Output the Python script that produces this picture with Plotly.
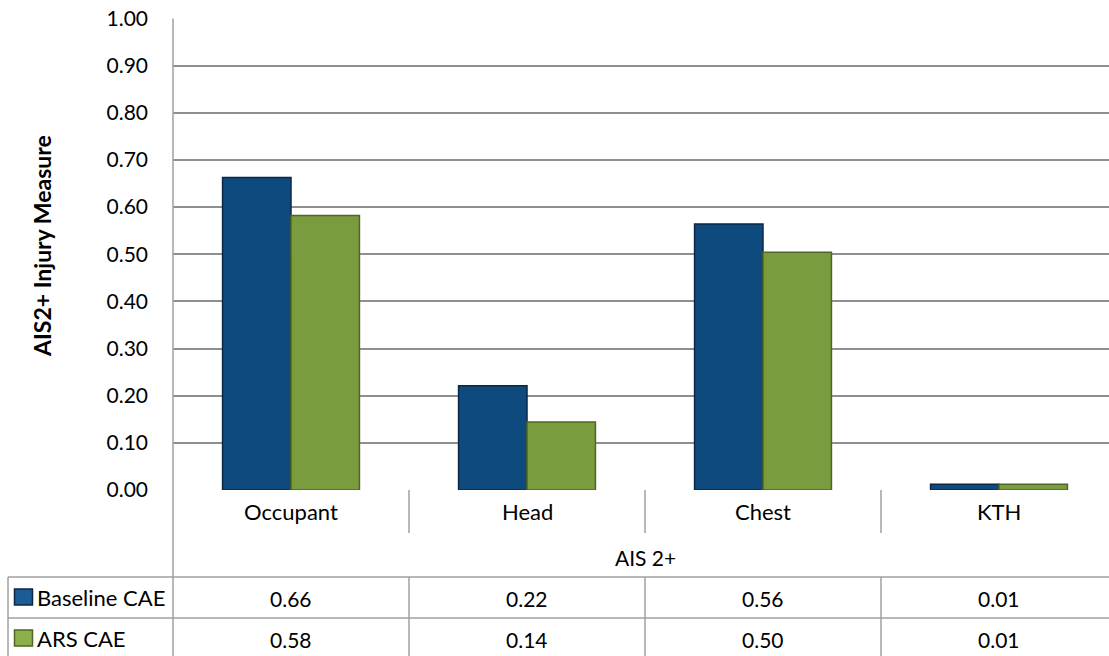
import plotly.graph_objects as go

categories = ["Occupant", "Head", "Chest", "KTH"]
group_label = "AIS 2+"
series_names = ["Baseline CAE", "ARS CAE"]
baseline_cae = [0.663, 0.221, 0.564, 0.012]
ars_cae = [0.582, 0.144, 0.504, 0.012]
y_ticks = [0.0, 0.1, 0.2, 0.3, 0.4, 0.5, 0.6, 0.7, 0.8, 0.9, 1.0]
y_title = "AIS2+ Injury Measure"

W, H = 1109, 656
FONT = "Lato"
GRID = "#8f8f8f"
LINE = "#a0a0a0"

def px(x):
    return x / W

def py(y):
    return 1 - y / H

plot_left, plot_top, plot_bottom = 173, 18.5, 490
cat_w = 236.0

series = [baseline_cae, ars_cae]
fills = ["#0f4a7f", "#7b9c3e"]
edges = ["#0a2846", "#4e6726"]
key_fills = ["#1d5b96", "#8cb04a"]

fig = go.Figure()
for name, vals, fc, ec in zip(series_names, series, fills, edges):
    fig.add_trace(go.Bar(
        x=list(range(len(categories))), y=vals, name=name,
        marker=dict(color=fc, line=dict(color=ec, width=1.5)),
        hoverinfo="skip",
    ))

shapes = []
annotations = []
# left axis line running down through the table
shapes.append(dict(type="line", xref="paper", yref="paper",
                   x0=px(plot_left), x1=px(plot_left), y0=py(plot_top), y1=0,
                   line=dict(color=LINE, width=1.5)))
# category dividers
for i in range(len(categories) - 1):
    shapes.append(dict(type="line", xref="x", yref="paper", x0=i + 0.5, x1=i + 0.5,
                       y0=py(plot_bottom), y1=py(533), line=dict(color=LINE, width=1.5)))
    shapes.append(dict(type="line", xref="x", yref="paper", x0=i + 0.5, x1=i + 0.5,
                       y0=py(577), y1=0, line=dict(color=LINE, width=1.5)))
# table horizontal lines
for yy in (577, 618):
    shapes.append(dict(type="line", xref="paper", yref="paper", x0=px(8), x1=1,
                       y0=py(yy), y1=py(yy), line=dict(color=LINE, width=1.5)))
shapes.append(dict(type="line", xref="paper", yref="paper", x0=px(8), x1=px(8),
                   y0=py(577), y1=0, line=dict(color=LINE, width=1.5)))

# category labels
for i, c in enumerate(categories):
    annotations.append(dict(x=i, y=py(511), xref="x", yref="paper", text=c,
                            showarrow=False, font=dict(family=FONT, size=22, color="#000"),
                            xanchor="center", yanchor="middle"))
annotations.append(dict(x=(len(categories) - 1) / 2, y=py(557), xref="x", yref="paper",
                        text=group_label, showarrow=False,
                        font=dict(family=FONT, size=21, color="#000"),
                        xanchor="center", yanchor="middle"))
# data table rows
row_y = [598, 639]
for r, (name, vals) in enumerate(zip(series_names, series)):
    yc = row_y[r]
    shapes.append(dict(type="rect", xref="paper", yref="paper",
                       x0=px(14.5), x1=px(32.5), y0=py(yc - 9), y1=py(yc + 7),
                       fillcolor=key_fills[r], line=dict(color=edges[r], width=1.5)))
    annotations.append(dict(x=px(35), y=py(yc - 1), xref="paper", yref="paper", text=name,
                            showarrow=False, font=dict(family=FONT, size=22, color="#000"),
                            xanchor="left", yanchor="middle"))
    for i, v in enumerate(vals):
        annotations.append(dict(x=i, y=py(yc), xref="x", yref="paper", text=f"{v:.2f}",
                                showarrow=False, font=dict(family=FONT, size=21, color="#000"),
                                xanchor="center", yanchor="middle"))
# y-axis title
annotations.append(dict(x=px(42), y=py(246), xref="paper", yref="paper", text=f"<b>{y_title}</b>",
                        textangle=-90, showarrow=False,
                        font=dict(family=FONT, size=23, color="#000"),
                        xanchor="center", yanchor="middle"))

fig.update_layout(
    width=W, height=H,
    margin=dict(l=0, r=0, t=0, b=0, autoexpand=False),
    paper_bgcolor="white", plot_bgcolor="white",
    barmode="group", bargap=0.42, bargroupgap=0,
    showlegend=False,
    shapes=shapes, annotations=annotations,
    xaxis=dict(domain=[px(plot_left), 1], range=[-0.5, -0.5 + (W - plot_left) / cat_w],
               showticklabels=False, showgrid=False, zeroline=False, showline=False, ticks=""),
    yaxis=dict(domain=[py(plot_bottom), py(plot_top)], range=[0, 1.0],
               tickvals=y_ticks, ticktext=[f"{t:.2f}" for t in y_ticks],
               showgrid=True, gridcolor=GRID, gridwidth=1.5, zeroline=False,
               showline=False, ticks="", ticklabelstandoff=24,
               tickfont=dict(family=FONT, size=21, color="#000")),
)

fig.write_html("out.html", config={"displayModeBar": False},
               post_script="document.body.style.margin='0';document.body.style.overflow='hidden';")
